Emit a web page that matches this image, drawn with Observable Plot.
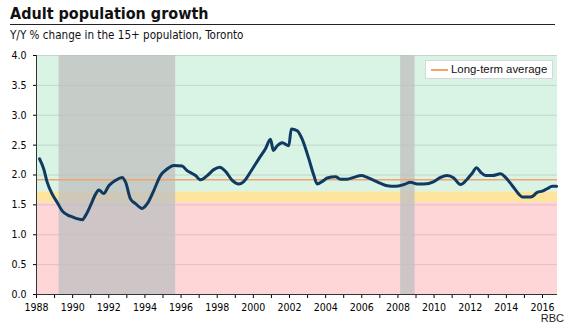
<!DOCTYPE html>
<html>
<head>
<meta charset="utf-8">
<script src="https://cdn.jsdelivr.net/npm/d3@7"></script>
<script src="https://cdn.jsdelivr.net/npm/@observablehq/plot@0.6"></script>
<style>
  html, body { margin: 0; padding: 0; background: #fff; }
  #wrap { position: relative; width: 570px; height: 327px; overflow: hidden; font-family: "DejaVu Sans Condensed", "DejaVu Sans", sans-serif; }
  #title { position: absolute; left: 10px; top: 4px; font-weight: bold; font-size: 16px; color: #111; white-space: nowrap; }
  #rule { position: absolute; left: 10px; top: 24px; width: 545px; height: 1px; background: #222; }
  #subtitle { position: absolute; left: 10px; top: 28px; font-size: 11.6px; color: #111; white-space: nowrap; }
  #chart { position: absolute; left: 0; top: 45px; }
  #legend { position: absolute; left: 425px; top: 60px; width: 126px; height: 17px; background: #fff; border: 1px solid #d8d8d8; font-family: "Liberation Sans", Arial, sans-serif; font-size: 11.4px; color: #111; }
  #legend .sw { position: absolute; left: 5px; top: 8px; width: 17px; height: 1.5px; background: #f2a46e; }
  #legend .lb { position: absolute; left: 25px; top: 2px; white-space: nowrap; }
  #source { position: absolute; right: 6px; top: 312px; font-family: "Liberation Sans", Arial, sans-serif; font-size: 11px; color: #222; }
</style>
</head>
<body>
<div id="wrap">
  <div id="title">Adult population growth</div>
  <div id="rule"></div>
  <div id="subtitle">Y/Y % change in the 15+ population, Toronto</div>
  <div id="chart"></div>
  <div id="legend"><div class="sw"></div><div class="lb">Long-term average</div></div>
  <div id="source">RBC</div>
</div>
<script>
// ---- data ----
const years = [1988.17,1988.40,1988.59,1988.87,1989.15,1989.42,1989.79,1989.98,1990.25,1990.53,1990.71,1990.99,1991.27,1991.45,1991.72,1992.00,1992.37,1992.74,1992.93,1993.20,1993.48,1993.85,1994.13,1994.49,1994.86,1995.23,1995.60,1996.06,1996.34,1996.52,1996.80,1997.08,1997.45,1997.81,1998.14,1998.46,1998.83,1999.20,1999.47,1999.84,2000.30,2000.67,2000.95,2001.10,2001.32,2001.60,2001.96,2002.10,2002.43,2002.70,2003.07,2003.35,2003.53,2003.90,2004.09,2004.55,2004.82,2005.19,2005.56,2005.97,2006.30,2006.67,2007.04,2007.41,2007.87,2008.33,2008.70,2009.07,2009.43,2009.99,2010.36,2010.73,2011.09,2011.46,2011.83,2012.11,2012.35,2012.57,2012.85,2013.22,2013.68,2013.95,2014.33,2014.69,2014.88,2015.24,2015.43,2015.71,2015.99,2016.26,2016.54,2016.78];
const growth = [2.27,2.10,1.88,1.68,1.54,1.40,1.32,1.30,1.27,1.25,1.32,1.49,1.68,1.75,1.69,1.82,1.91,1.96,1.88,1.60,1.52,1.44,1.52,1.74,1.99,2.10,2.16,2.15,2.07,2.04,1.99,1.92,1.99,2.09,2.13,2.06,1.91,1.85,1.89,2.05,2.27,2.44,2.60,2.41,2.49,2.54,2.49,2.77,2.74,2.60,2.27,1.99,1.85,1.91,1.95,1.97,1.93,1.93,1.96,1.99,1.96,1.91,1.86,1.82,1.81,1.84,1.88,1.85,1.85,1.89,1.96,1.99,1.95,1.84,1.93,2.03,2.12,2.05,1.99,1.99,2.02,1.96,1.82,1.68,1.63,1.63,1.64,1.71,1.73,1.77,1.81,1.81];
const longTermAverage = 1.92;
const recessionStart = [1989.25, 2008.15];
const recessionEnd = [1995.7, 2008.95];
const zoneLow = [0, 1.54, 1.72];
const zoneHigh = [1.54, 1.72, 4.0];
const zoneColor = ["#ffd6d8", "#fde59f", "#d9f3e4"];
const yTicks = [0, 0.5, 1, 1.5, 2, 2.5, 3, 3.5, 4];
const xTickYears = d3.range(1988, 2017);
const xDomain = [1988, 2016.83];

// ---- tables ----
const series = years.map((y, i) => ({year: y, value: growth[i]}));
const zones = zoneLow.map((lo, i) => ({lo, hi: zoneHigh[i], color: zoneColor[i]}));
const recessions = recessionStart.map((s, i) => ({s, e: recessionEnd[i]}));

const chart = Plot.plot({
  width: 570,
  height: 273,
  marginLeft: 36,
  marginRight: 13,
  marginTop: 10,
  marginBottom: 24,
  style: {fontFamily: '"DejaVu Sans Condensed", "DejaVu Sans", sans-serif', fontSize: "10.5px", color: "#000", background: "transparent"},
  x: {domain: xDomain},
  y: {domain: [0, 4]},
  marks: [
    Plot.rect(zones, {y1: "lo", y2: "hi", fill: "color"}),
    Plot.ruleY(yTicks.filter(d => d > 0), {stroke: "#000", strokeOpacity: 0.11}),
    Plot.rect(recessions, {x1: "s", x2: "e", fill: "rgb(192,192,192)", fillOpacity: 0.78}),
    Plot.ruleY([longTermAverage], {stroke: "#f2a46e", strokeWidth: 1.6}),
    Plot.line(series, {x: "year", y: "value", stroke: "#0f3a62", strokeWidth: 3, curve: "monotone-x", strokeLinejoin: "round", strokeLinecap: "round"}),
    Plot.axisY({ticks: yTicks, tickFormat: d3.format(".1f"), tickSize: 3, tickPadding: 7, label: null}),
    Plot.axisX({ticks: xTickYears, tickFormat: d => d % 2 === 0 ? String(d) : "", tickSize: 4, tickPadding: 5, label: null}),
    Plot.ruleX([xDomain[0]], {stroke: "#333"}),
    Plot.ruleY([0], {stroke: "#333"})
  ]
});
document.getElementById("chart").appendChild(chart);
</script>
</body>
</html>
